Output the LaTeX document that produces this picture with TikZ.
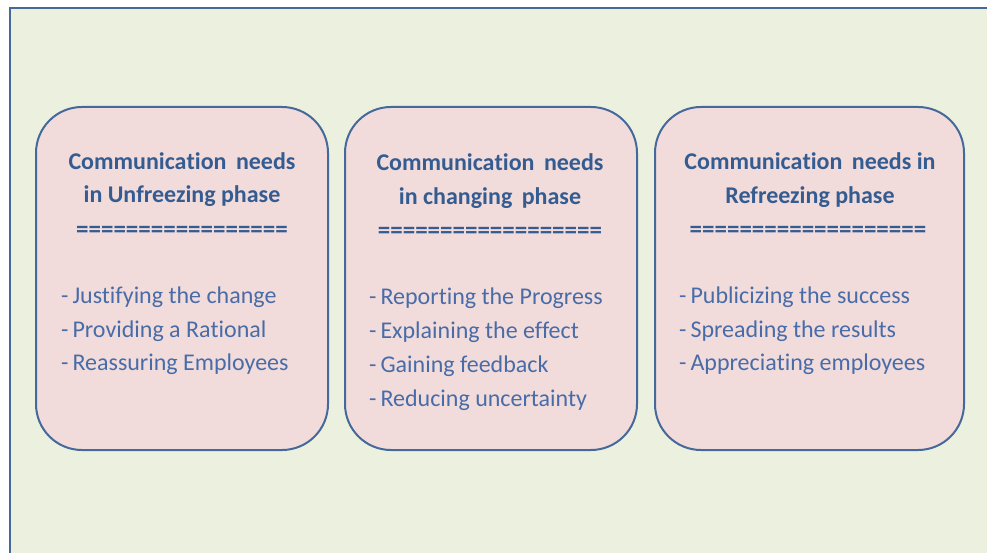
\documentclass[tikz,border=0pt]{standalone}
\usepackage{fontspec}
\setmainfont{Carlito}[RawFeature={-liga;-clig;-calt;-dlig}]
\newcommand{\tb}{\hbox{t}}
\definecolor{framec}{RGB}{70,105,155}
\definecolor{bgc}{RGB}{235,240,223}
\definecolor{boxfill}{RGB}{242,220,219}
\definecolor{titlec}{RGB}{52,92,145}
\definecolor{itemc}{RGB}{72,108,168}
\tikzset{
  phasebox/.style={draw=framec, line width=2pt, fill=boxfill, rounded corners=46pt, inner sep=0pt},
  titleline/.style={anchor=base, text=titlec, font=\fontsize{24}{30}\selectfont\bfseries, inner sep=0pt},
  sepline/.style={anchor=base, text=titlec, font=\fontsize{25}{30}\selectfont\bfseries, inner sep=0pt},
  itemline/.style={anchor=base west, text=itemc, font=\fontsize{24}{30}\selectfont, inner sep=0pt},
}
\begin{document}
\begin{tikzpicture}[x=1pt,y=-1pt]
\useasboundingbox (0,0) rectangle (987,553);
\fill[white] (0,0) rectangle (987,553);
\draw[draw=framec, line width=2pt, fill=bgc] (10,8) rectangle (1000,570);
% boxes
\draw[phasebox] (36,107) rectangle (328,450);
\draw[phasebox] (345,107) rectangle (637,450);
\draw[phasebox] (655,107) rectangle (964,450);
% box 1
\node[titleline] (t1a) at (182,170) {Communica\tb ion\, needs};
\node[titleline] (t1b) at (182,203) {in Unfreezing phase};
\node[sepline] (t1c) at (182,237) {=================};
\node[itemline] (i1a) at (61,303) {-\,Justifying the change};
\node[itemline] (i1b) at (61,337) {-\,Providing a Ra\tb ional};
\node[itemline] (i1c) at (61,370) {-\,Reassuring Employees};
% box 2
\node[titleline] (t2a) at (490,171) {Communica\tb ion\, needs};
\node[titleline] (t2b) at (490,205) {in changing\, phase};
\node[sepline] (t2c) at (490,239) {==================};
\node[itemline] (i2a) at (369,304) {-\,Repor\tb ing the Progress};
\node[itemline] (i2b) at (369,338) {-\,Explaining the effect};
\node[itemline] (i2c) at (369,372) {-\,Gaining feedback};
\node[itemline] (i2d) at (369,406) {-\,Reducing uncertainty};
% box 3
\node[titleline] (t3a) at (810,170) {Communica\tb ion\, needs in};
\node[titleline] (t3b) at (810,204) {Refreezing phase};
\node[sepline] (t3c) at (808,237) {===================};
\node[itemline] (i3a) at (679,303) {-\,Publicizing the success};
\node[itemline] (i3b) at (679,337) {-\,Spreading the results};
\node[itemline] (i3c) at (679,370) {-\,Apprecia\tb ing employees};
\end{tikzpicture}
\end{document}
